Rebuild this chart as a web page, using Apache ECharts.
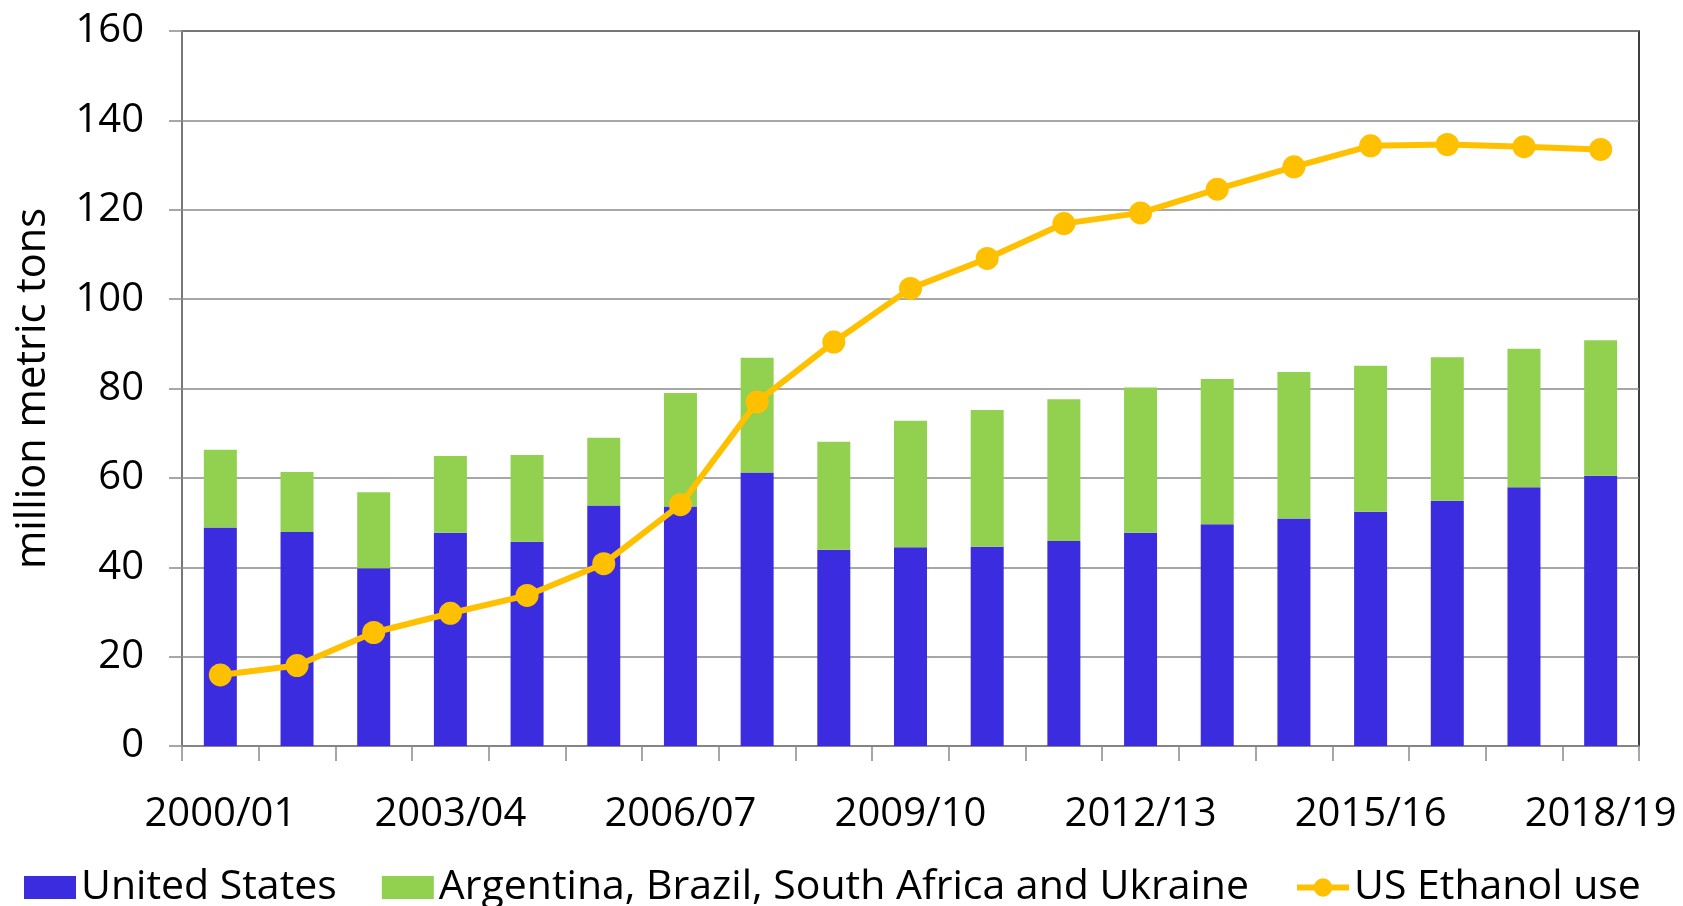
<!DOCTYPE html>
<html>
<head>
<meta charset="utf-8">
<script src="https://cdn.jsdelivr.net/npm/echarts@6/dist/echarts.min.js"></script>
<style>
  html, body { margin: 0; padding: 0; background: #fff; }
  #chart { width: 1683px; height: 906px; }
</style>
</head>
<body>
<div id="chart"></div>
<script>
// marketing years
const categories = ['2000/01', '2001/02', '2002/03', '2003/04', '2004/05', '2005/06', '2006/07',
  '2007/08', '2008/09', '2009/10', '2010/11', '2011/12', '2012/13', '2013/14', '2014/15',
  '2015/16', '2016/17', '2017/18', '2018/19']

// million metric tons
const unitedStates = [48.9, 47.9, 39.8, 47.7, 45.7, 53.8, 53.6, 61.2, 43.9, 44.5,
  44.6, 45.9, 47.7, 49.6, 50.9, 52.4, 54.9, 57.9, 60.5]
const otherExporters = [17.4, 13.4, 17.0, 17.2, 19.4, 15.2, 25.4, 25.7, 24.2, 28.3,
  30.6, 31.7, 32.5, 32.5, 32.8, 32.7, 32.1, 31.0, 30.3]
const ethanolUse = [15.9, 18.0, 25.4, 29.7, 33.7, 40.8, 54.0, 77.0, 90.4, 102.4,
  109.1, 116.9, 119.3, 124.6, 129.6, 134.3, 134.6, 134.1, 133.5]

const font = "'Open Sans', sans-serif"
const gridGray = '#8a8a8a'

const chart = echarts.init(document.getElementById('chart'))

const option = {
  animation: false,
  textStyle: { fontFamily: font },
  grid: {
    left: 182,
    right: 44,
    top: 31,
    bottom: 160,
    show: true,
    borderColor: '#000',
    borderWidth: 1.5
  },
  legend: {
    left: 19,
    top: 862,
    itemWidth: 52,
    itemHeight: 23,
    itemGap: 45,
    textStyle: { fontSize: 41, color: '#000', fontFamily: font },
    lineStyle: { width: 6 },
    data: [
      { name: 'United States', icon: 'rect' },
      { name: 'Argentina, Brazil, South Africa and Ukraine', icon: 'rect' },
      { name: 'US Ethanol use' }
    ]
  },
  xAxis: {
    type: 'category',
    data: categories,
    axisLine: { lineStyle: { color: gridGray, width: 1.5 } },
    axisTick: { show: true, length: 15, interval: 0, lineStyle: { color: gridGray, width: 1.5 } },
    axisLabel: { interval: 2, margin: 49, fontSize: 40, color: '#000', fontFamily: font }
  },
  yAxis: {
    type: 'value',
    min: 0,
    max: 160,
    interval: 20,
    name: 'million metric tons',
    nameLocation: 'middle',
    nameRotate: 90,
    nameGap: 128,
    nameTextStyle: { fontSize: 41.5, color: '#000', fontFamily: font },
    axisLine: { show: true, lineStyle: { color: gridGray, width: 1.5 } },
    axisTick: { show: true, length: 13, lineStyle: { color: gridGray, width: 1.5 } },
    axisLabel: { margin: 38, fontSize: 40, color: '#000', fontFamily: font },
    splitLine: { lineStyle: { color: gridGray, width: 1.5 } }
  },
  series: [
    {
      name: 'United States',
      type: 'bar',
      stack: 'exports',
      barWidth: 33,
      itemStyle: { color: '#3c2ce0' },
      data: unitedStates
    },
    {
      name: 'Argentina, Brazil, South Africa and Ukraine',
      type: 'bar',
      stack: 'exports',
      barWidth: 33,
      itemStyle: { color: '#92d050' },
      data: otherExporters
    },
    {
      name: 'US Ethanol use',
      type: 'line',
      symbol: 'circle',
      symbolSize: 23,
      lineStyle: { color: '#ffc000', width: 6 },
      itemStyle: { color: '#ffc000' },
      data: ethanolUse
    }
  ]
}

chart.setOption(option)
</script>
</body>
</html>
